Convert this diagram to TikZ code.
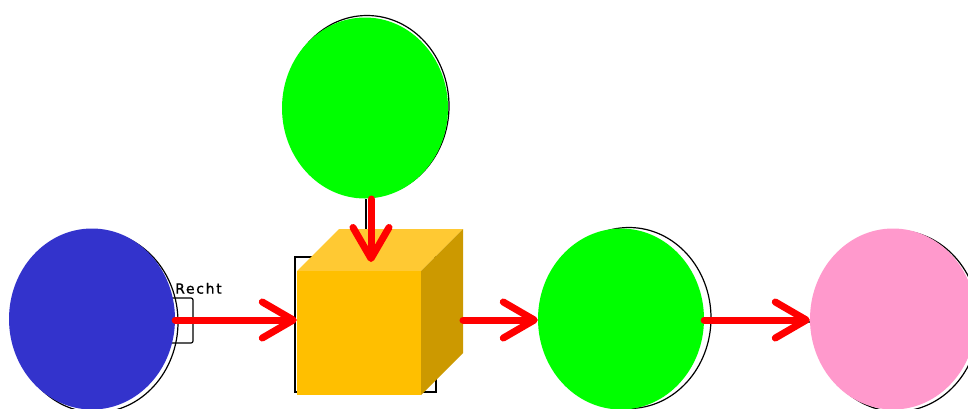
\documentclass[tikz,border=0pt]{standalone}
\usepackage{fontspec}
\setmainfont{DejaVu Sans}
\usetikzlibrary{shapes.geometric,arrows.meta}
\definecolor{cblue}{HTML}{3333CC}
\definecolor{cgreen}{HTML}{00FF00}
\definecolor{cpink}{HTML}{FF99CC}
\definecolor{cfront}{HTML}{FFBF00}
\definecolor{ctop}{HTML}{FFC933}
\definecolor{cside}{HTML}{CC9900}
\definecolor{cred}{HTML}{FF0000}
\tikzset{
  blob/.style={ellipse, draw=none, minimum width=166pt, minimum height=181pt, inner sep=0pt},
  ghost/.style={ellipse, draw=black, line width=1.2pt, minimum width=164pt, minimum height=181pt, inner sep=0pt},
  flow/.style={draw=cred, line width=7pt, line cap=round,
    -{Straight Barb[length=31pt,width=36pt,round]}},
  thin/.style={draw=black, line width=1.2pt}
}
\begin{document}
\begin{tikzpicture}[x=1pt,y=-1pt]
\useasboundingbox (0,0) rectangle (968,408);
\fill[white] (0,0) rectangle (968,408);
% faint black outlines behind
\node[ghost] (gtop) at (367,106) {};
\node[ghost] (gmid) at (629,318) {};
\node[ghost] (gblue) at (96,322) {};
\node[ghost] (gpink) at (897,321) {};
\draw[thin, rounded corners=2pt] (160,298) rectangle (193,343);
\draw[thin] (295,257) rectangle (436,392);
\draw[thin] (366,199) -- (366,229);
\draw[draw=black!70, line width=1.5pt] (704,322) -- (811,322);
% label
\node[anchor=south west, inner sep=0pt, font=\fontsize{14}{14}\selectfont\addfontfeature{LetterSpace=12,FakeBold=1}] (lbl) at (175,294) {Recht};
% coloured shapes
\node[blob, fill=cblue] (blue) at (92,319) {};
\node[blob, fill=cgreen] (top) at (365,108) {};
\node[blob, fill=cgreen] (mid) at (621,319) {};
\node[blob, fill=cpink] (pink) at (893,319) {};
% cube
\fill[ctop] (297,271) -- (339,229) -- (463,229) -- (421,271) -- cycle;
\fill[cside] (421,271) -- (463,229) -- (463,353) -- (421,395) -- cycle;
\node[rectangle, fill=cfront, minimum width=124pt, minimum height=124pt, inner sep=0pt] (cube) at (359,333) {};
\coordinate (cubeR) at (463,320);
\coordinate (cubeT) at (371,262);
\coordinate (topS) at (371,199);
% arrows
\draw[flow] (blue.east |- 0,320) -- (cube.west |- 0,320);
\draw[flow] (topS) -- (cubeT);
\draw[flow] (cubeR) -- (mid.west |- 0,320);
\draw[flow] (mid.east |- 0,320) -- (pink.west |- 0,320);
\end{tikzpicture}
\end{document}
